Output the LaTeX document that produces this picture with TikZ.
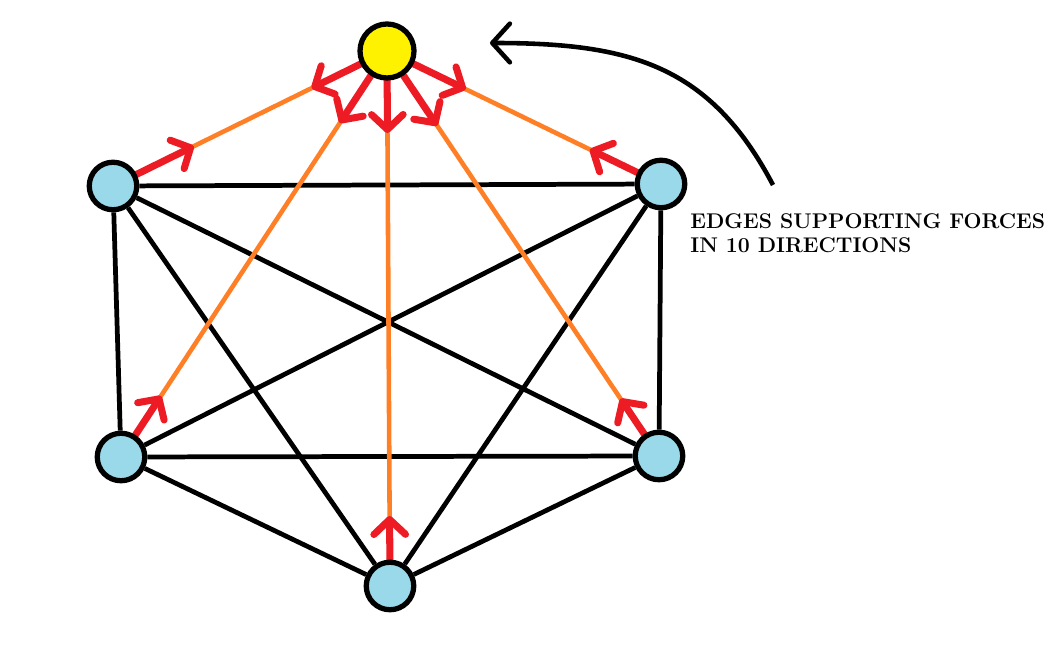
\documentclass[tikz,border=0pt]{standalone}
\usepackage{tikz}
\usetikzlibrary{calc, positioning, backgrounds, arrows.meta}

\definecolor{paintblue}{RGB}{153,217,234}
\definecolor{paintyellow}{RGB}{255,242,0}
\definecolor{paintred}{RGB}{237,28,36}
\definecolor{paintorange}{RGB}{255,127,39}

\begin{document}
\begin{tikzpicture}[-,auto,
                    main node/.style={circle,draw,line width=3pt,fill=paintblue,minimum size=0.95cm,inner sep=0pt},
                    hub node/.style={main node,fill=paintyellow,minimum size=1.08cm},
                    bar/.style={line width=2.7pt},
                    loaded bar/.style={line width=2.6pt,draw=paintorange},
                    force/.style={draw=paintred,line width=4pt,line cap=round,
                                  -{Straight Barb[length=8.5pt,width=18pt,round]}}]

  \useasboundingbox (0,0) rectangle (21.26,12.9);

  \node[hub node] (y) at (7.74,11.88) {};
  \node[main node] (tl) at (2.26,9.18) {};
  \node[main node] (tr) at (13.22,9.22) {};
  \node[main node] (bl) at (2.42,3.76) {};
  \node[main node] (br) at (13.18,3.78) {};
  \node[main node] (b) at (7.8,1.18) {};

  \begin{scope}[on background layer]
  \path[every edge/.style={draw,bar}]
  (tl) edge (tr)
       edge (bl)
       edge (br)
       edge (b)
  (tr) edge (bl)
       edge (br)
       edge (b)
  (bl) edge (br)
       edge (b)
  (br) edge (b);

  \path[every edge/.style={loaded bar}]
  (y) edge (tl)
      edge (tr)
      edge (bl)
      edge (br)
      edge (b);

  % forces at the hub
  \draw[force] (y) -- ($(y)!1.68cm!(tl)$);
  \draw[force] (y) -- ($(y)!1.75cm!(tr)$);
  \draw[force] (y) -- ($(y)!1.72cm!(bl)$);
  \draw[force] (y) -- ($(y)!1.8cm!(br)$);
  \draw[force] (y) -- ($(y)!1.64cm!(b)$);

  % forces at the outer nodes
  \draw[force] (tl) -- ($(tl)!1.8cm!(y)$);
  \draw[force] (tr) -- ($(tr)!1.58cm!(y)$);
  \draw[force] (bl) -- ($(bl)!1.46cm!(y)$);
  \draw[force] (br) -- ($(br)!1.38cm!(y)$);
  \draw[force] (b) -- ($(b)!1.4cm!(y)$);
  \end{scope}

  \coordinate (note end) at (15.46,9.2);
  \draw[line width=2.6pt,-{Straight Barb[length=10pt,width=22pt,round]}]
    (note end) .. controls (14.2,11.6) and (12.6,12.04) .. (9.8,12.04);

  \node[anchor=base west,align=left,font=\fontsize{12.1}{14.2}\selectfont\bfseries,inner sep=0pt] (note)
    at (13.8,7.84) {EDGES SUPPORTING FORCES\\IN 10 DIRECTIONS};

\end{tikzpicture}
\end{document}
